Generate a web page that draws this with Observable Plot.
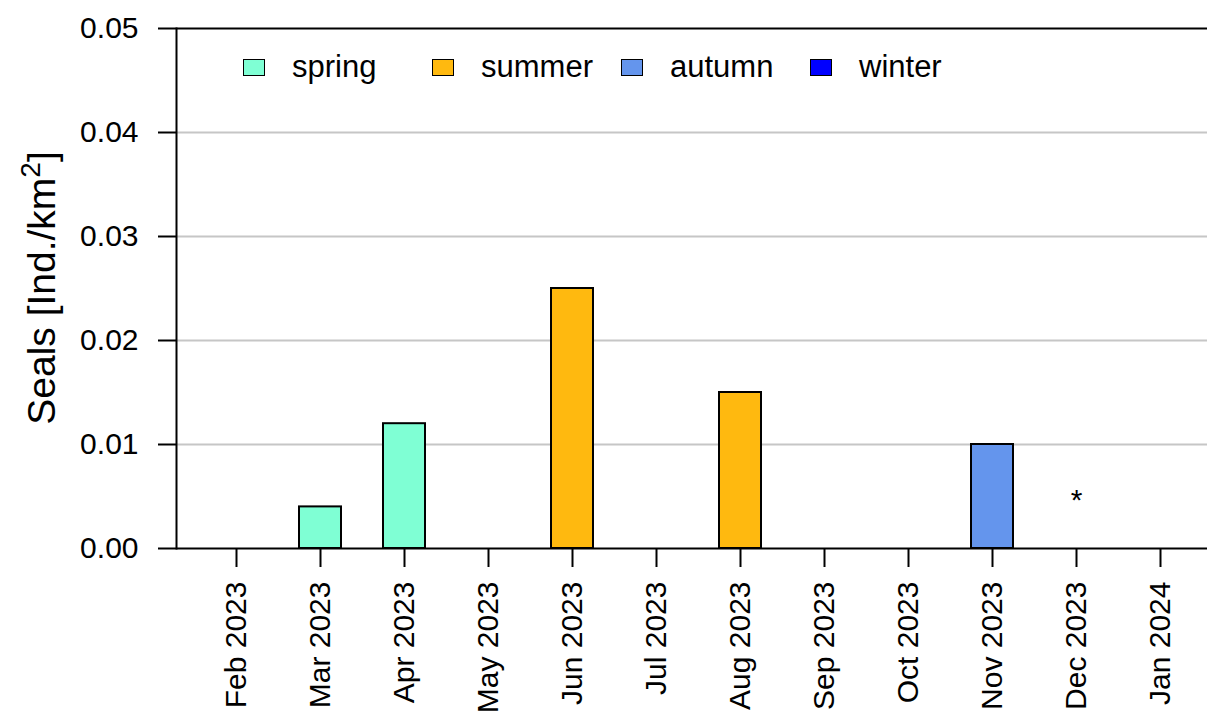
<!DOCTYPE html>
<html><head><meta charset="utf-8">
<script src="https://cdn.jsdelivr.net/npm/d3@7"></script>
<script src="https://cdn.jsdelivr.net/npm/@observablehq/plot@0.6"></script>
<style>
body{margin:0;background:#fff;font-family:"Liberation Sans",Arial,sans-serif;}
#wrap{position:relative;width:1207px;height:716px;overflow:hidden}
#legend{position:absolute;left:243px;top:49px;display:flex;font-size:31px;color:#000}
.item{width:189px;display:flex;align-items:center;white-space:nowrap}
.sw{width:20px;height:15px;border:1.5px solid #000;margin-right:27px;flex:none}
</style></head><body><div id="wrap"><div id="legend"></div></div>
<script>
const months = ["Feb 2023","Mar 2023","Apr 2023","May 2023","Jun 2023","Jul 2023","Aug 2023","Sep 2023","Oct 2023","Nov 2023","Dec 2023","Jan 2024"];
const seasons = ["spring","summer","autumn","winter"];
const seasonColors = ["#7FFFD4","#FFB90F","#6495ED","#0000FF"];
const barMonths = ["Mar 2023","Apr 2023","Jun 2023","Aug 2023","Nov 2023"];
const barValues = [0.004,0.012,0.025,0.015,0.010];
const barSeasons = ["spring","spring","summer","summer","autumn"];
const yTicks = [0,0.01,0.02,0.03,0.04,0.05];
const yTickLabels = ["0.00","0.01","0.02","0.03","0.04","0.05"];
const gridValues = [0.01,0.02,0.03,0.04];
const noteMonths = ["Dec 2023"];
const noteValues = [0.005];
const noteTexts = ["*"];
const yTitle = "Seals [Ind./km";
const yTitleSup = "2";

const bars = barMonths.map((m,i)=>({month:m, value:barValues[i], season:barSeasons[i]}));
const notes = noteMonths.map((m,i)=>({month:m, value:noteValues[i], text:noteTexts[i]}));
const font = "'Liberation Sans', Arial, sans-serif";

const chart = Plot.plot({
  width:1207, height:716,
  marginTop:28, marginBottom:168, marginLeft:176, marginRight:0,
  style:{fontFamily:font, fontSize:"30px", background:"white", color:"black", overflow:"visible"},
  x:{type:"band", domain:months, range:[194,1202], paddingInner:0.5, paddingOuter:0.25},
  y:{domain:[0,0.05], range:[548,28]},
  color:{domain:seasons, range:seasonColors},
  marks:[
    Plot.ruleY(gridValues, {stroke:"#c6c6c6", strokeWidth:2}),
    Plot.barY(bars, {x:"month", y:"value", fill:"season", stroke:"black", strokeWidth:2}),
    Plot.text(notes, {x:"month", y:"value", text:"text", fontSize:30, dy:4}),
    Plot.ruleY([0,0.05], {stroke:"black", strokeWidth:2}),
    Plot.frame({anchor:"left", stroke:"black", strokeWidth:2}),
    Plot.axisY({ticks:yTicks, tickFormat:d=>yTickLabels[yTicks.indexOf(d)], tickSize:18, tickPadding:20, strokeWidth:2, fontSize:30, label:null}),
    Plot.axisX({tickSize:19, tickPadding:14, tickRotate:-90, strokeWidth:2, fontSize:30, label:null})
  ]
});
document.getElementById("wrap").appendChild(chart);

const svg = d3.select(chart);
const t = svg.append("text")
  .attr("transform","translate(55,288) rotate(-90)")
  .attr("text-anchor","middle")
  .attr("font-family", font)
  .attr("font-size", 39)
  .attr("fill","black");
t.append("tspan").text(yTitle);
t.append("tspan").attr("font-size",28).attr("dy",-15).text(yTitleSup);
t.append("tspan").attr("dy",15).text("]");

const legend = d3.select("#legend");
seasons.forEach((s,i)=>{
  const it = legend.append("div").attr("class","item");
  it.append("div").attr("class","sw").style("background", seasonColors[i]);
  it.append("span").text(s);
});
</script></body></html>
